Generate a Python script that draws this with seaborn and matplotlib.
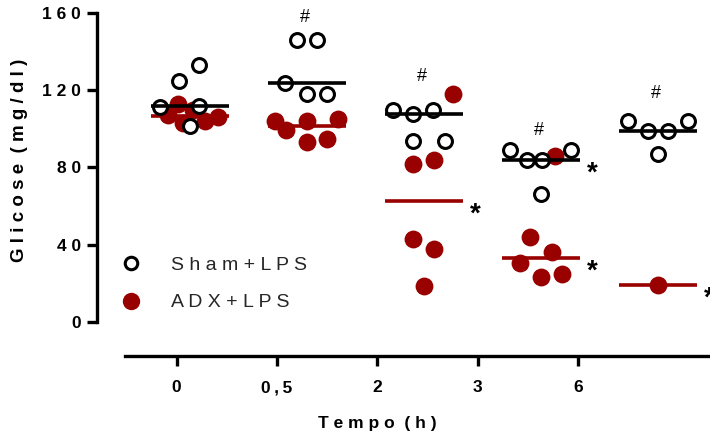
import numpy as np
import pandas as pd
import matplotlib
matplotlib.use("Agg")
import matplotlib.pyplot as plt
import seaborn as sns
from matplotlib.lines import Line2D

# ---- data: blood glucose (mg/dl) per animal at each time point ----
tempos = ["0", "0,5", "2", "3", "6"]

sham_0h = [133, 125, 111.5, 112, 101.5]
sham_05h = [146, 146, 124, 118, 118]
sham_2h = [110, 108, 110, 94, 94]
sham_3h = [89, 84, 84, 89, 66]
sham_6h = [104, 99, 99, 104, 87]

adx_0h = [113, 107, 103, 104, 106, 110]
adx_05h = [104, 99.5, 104, 105, 93, 95]
adx_2h = [118, 82, 84, 43, 37.5, 18.5]
adx_3h = [86, 44, 36, 30.5, 23, 25]
adx_6h = [19]

sham_vals = [sham_0h, sham_05h, sham_2h, sham_3h, sham_6h]
adx_vals = [adx_0h, adx_05h, adx_2h, adx_3h, adx_6h]

# significance marks
hash_groups = [1, 2, 3, 4]                      # vs. time 0
star_marks = [(2, "adx"), (3, "sham"), (3, "adx"), (4, "adx")]  # vs. Sham

# ---- layout (column scatter offsets in pixels, one column = 117 px) ----
COL_PX = 117.0
sham_dx = [[9, -11, -30, 9, 0], [-10, 10, -22, 0, 20], [-31, -11, 9, -11, 21],
           [-31, -14, 1, 30, 0], [-30, -10, 10, 30, 0]]
adx_dx = [[-12, -22, -7, 15, 28, 3], [-32, -21, 0, 31, 0, 20], [29, -11, 10, -11, 10, 0],
          [14, -11, 11, -21, 0, 21], [0]]
hash_y = [157.6, 127.1, 99.1, 118.5]
tick_positions = [-0.115, 0.743, 1.601, 2.459, 3.317]
half_w = 39 / COL_PX

RED = "#990000"

rows = []
for i, t in enumerate(tempos):
    for v, dx in zip(sham_vals[i], sham_dx[i]):
        rows.append({"tempo": t, "grupo": "Sham+LPS", "glicose": v, "x": i + dx / COL_PX})
    for v, dx in zip(adx_vals[i], adx_dx[i]):
        rows.append({"tempo": t, "grupo": "ADX+LPS", "glicose": v, "x": i + dx / COL_PX})
df = pd.DataFrame(rows)

sns.set_theme(style="ticks")
plt.rcParams["font.family"] = ["Liberation Sans", "DejaVu Sans"]

fig = plt.figure(figsize=(7.1, 4.37), dpi=100)
ax = fig.add_axes([97 / 710, 1 - 321.7 / 437, 613 / 710, 308.4 / 437])

# axis frame first (moving a spine rebuilds its ticks)
sns.despine(ax=ax)
for side in ("left", "bottom"):
    ax.spines[side].set_linewidth(2.4)
    ax.spines[side].set_color("black")
ax.spines["bottom"].set_position(("outward", 24.7))

# ADX dots and medians underneath
sns.scatterplot(data=df[df.grupo == "ADX+LPS"], x="x", y="glicose", color=RED,
                s=165, linewidth=0, ax=ax, zorder=2, legend=False, clip_on=False)
adx_med = [np.median(v) for v in adx_vals]
for i, m in enumerate(adx_med):
    ax.hlines(m, i - half_w, i + half_w, color=RED, lw=2.6, zorder=3)

# Sham dots (open) and medians on top
sns.scatterplot(data=df[df.grupo == "Sham+LPS"], x="x", y="glicose", color="white",
                edgecolor="black", s=100, linewidth=2.2, ax=ax, zorder=4,
                legend=False, clip_on=False)
sham_med = [np.median(v) for v in sham_vals]
for i, m in enumerate(sham_med):
    ax.hlines(m, i - half_w, i + half_w, color="black", lw=2.6, zorder=5)

# '#' above Sham columns
for g, yy in zip(hash_groups, hash_y):
    ax.text(g - 0.02, yy, "#", ha="center", va="center", fontsize=13,
            color="black", zorder=6)

# '*' next to the median lines
for g, which in star_marks:
    m = sham_med[g] if which == "sham" else adx_med[g]
    ax.annotate("*", xy=(g + half_w, m), xytext=(8.5, -10), textcoords="offset points",
                ha="center", va="center", fontsize=20, fontweight="bold",
                color="black", zorder=6, annotation_clip=False)

ax.set_xlim(-0.795, 4.444)
ax.set_ylim(0, 160)
ax.spines["left"].set_bounds(0, 160)
ax.spines["bottom"].set_bounds(-0.556, 4.444)

yticks = [0, 40, 80, 120, 160]
ax.set_yticks(yticks)
ax.set_yticklabels([" ".join(str(v)) for v in yticks], fontsize=12.5, fontweight="bold")
ax.set_xticks(tick_positions)
ax.set_xticklabels([t.replace(",", "\u2009,\u2009") for t in tempos],
                   fontsize=12.5, fontweight="bold")

ax.tick_params(axis="both", width=2.4, length=7, color="black", labelcolor="black")
ax.tick_params(axis="y", pad=4.5)
ax.tick_params(axis="x", pad=10.5)

ax.set_ylabel("G l i c o s e  ( m g / d l )", fontsize=13.5, fontweight="bold", color="black")
ax.yaxis.set_label_coords((28 - 97) / 613, (321.7 - 160) / 308.4)
ax.set_xlabel("T e m p o  ( h )", fontsize=12.5, fontweight="bold", color="black")
ax.xaxis.set_label_coords((377 - 97) / 613, (321.7 - 416) / 308.4)

handles = [
    Line2D([], [], marker="o", ls="none", mfc="white", mec="black", mew=2.2, ms=9),
    Line2D([], [], marker="o", ls="none", mfc=RED, mec=RED, mew=0, ms=12.5),
]
ax.legend(handles, ["S h a m + L P S", "A D X + L P S"], loc="center left",
          bbox_to_anchor=((120.8 - 97) / 613, (321.7 - 284) / 308.4),
          frameon=False, fontsize=14, handlelength=1.0, handletextpad=1.6,
          labelspacing=1.0, borderpad=0, borderaxespad=0)

fig.savefig("out.png", dpi=100)
